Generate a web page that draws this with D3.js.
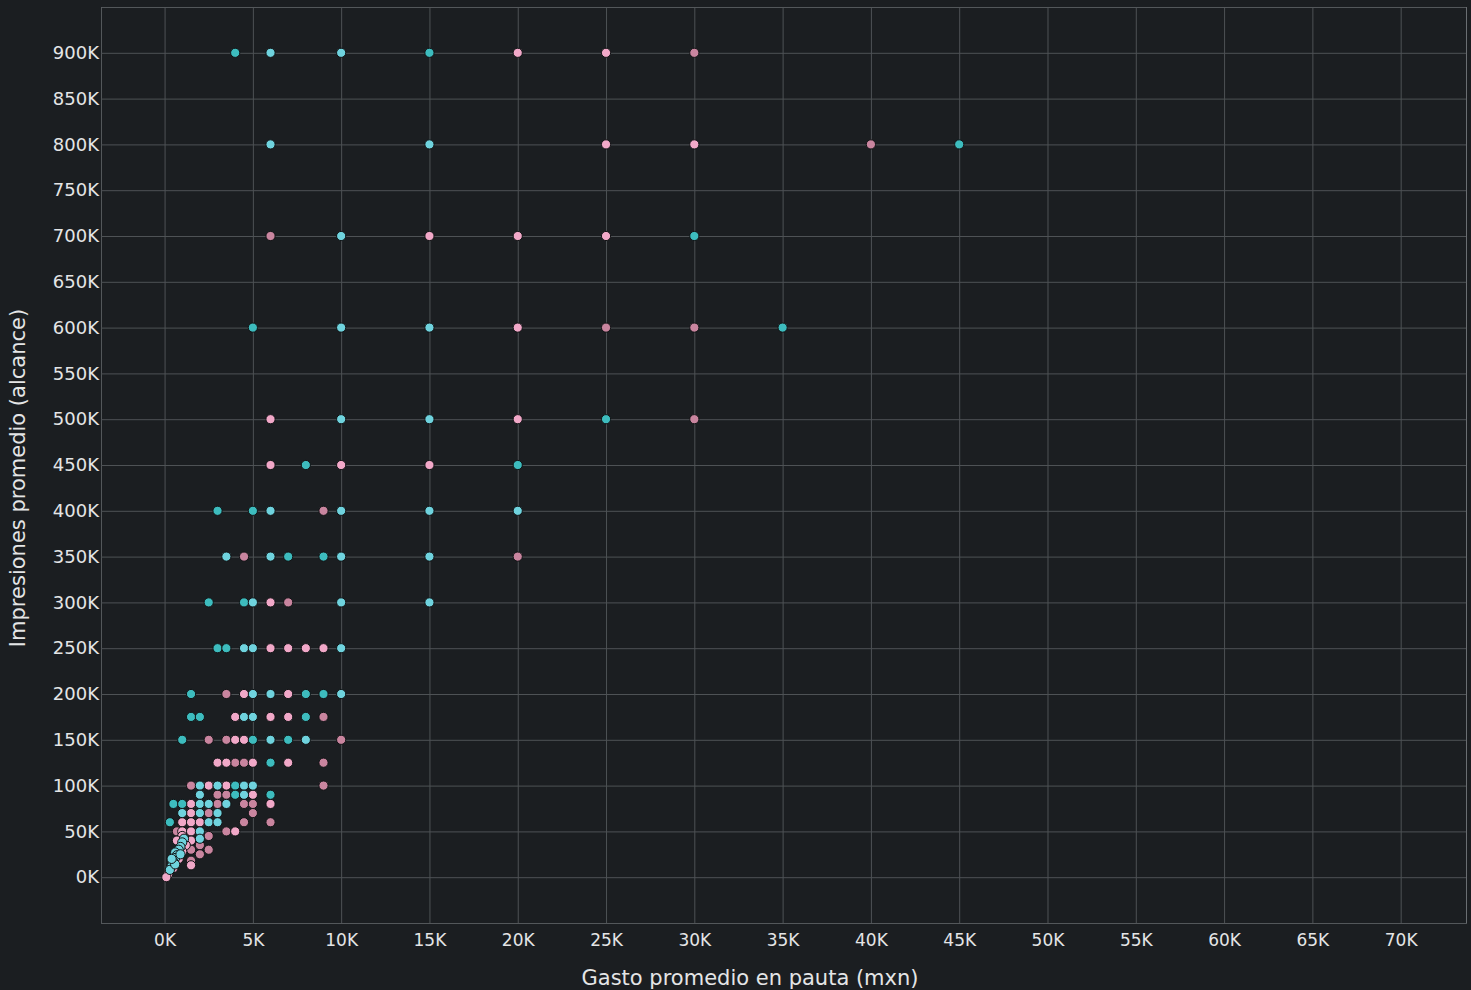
<!DOCTYPE html>
<html>
<head>
<meta charset="utf-8">
<script src="https://cdn.jsdelivr.net/npm/d3@7"></script>
<style>
  html, body { margin: 0; padding: 0; background: #1b1e21; }
  svg { display: block; }
</style>
</head>
<body>
<svg id="chart"></svg>
<script>
// Tick values (thousands)
const xTicks = [0, 5, 10, 15, 20, 25, 30, 35, 40, 45, 50, 55, 60, 65, 70];
const yTicks = [0, 50, 100, 150, 200, 250, 300, 350, 400, 450, 500, 550, 600, 650, 700, 750, 800, 850, 900];

// Series: [gasto (K mxn), impresiones (K)]
const pinkDark = [
  [30, 900], [40, 800], [6, 700], [25, 600], [30, 600], [30, 500],
  [9, 400], [4.5, 350], [20, 350], [7, 300], [3.5, 200], [9, 175],
  [2.5, 150], [3.5, 150], [10, 150], [4, 125], [4.5, 125], [9, 125],
  [1.5, 100], [9, 100], [3, 90], [3.5, 90], [3, 80], [4.5, 80], [5, 80],
  [2.5, 70], [5, 70], [4.5, 60], [6, 60], [0.7, 50], [3.5, 50],
  [2.5, 45], [2, 35], [2.5, 30], [1.5, 30], [2, 25], [1.5, 18]
];
const pinkLight = [
  [20, 900], [25, 900], [25, 800], [30, 800], [15, 700], [20, 700], [25, 700],
  [20, 600], [6, 500], [20, 500], [6, 450], [10, 450], [15, 450], [6, 300],
  [6, 250], [7, 250], [8, 250], [9, 250], [4.5, 200], [7, 200],
  [4, 175], [6, 175], [7, 175], [4, 150], [4.5, 150],
  [3, 125], [3.5, 125], [5, 125], [7, 125], [2.5, 100], [3.5, 100],
  [5, 90], [1.5, 80], [6, 80], [1.5, 70], [1, 60], [1.5, 60], [2, 60],
  [1, 50], [1.5, 50], [4, 50], [1.5, 40], [1, 45], [0.7, 40], [1.2, 35],
  [1, 28], [0.8, 20], [1.5, 13], [0.5, 10], [0.2, 3], [0.1, 0]
];
const tealDark = [
  [4, 900], [15, 900], [45, 800], [30, 700], [5, 600], [35, 600], [25, 500],
  [8, 450], [20, 450], [3, 400], [5, 400], [7, 350], [9, 350],
  [2.5, 300], [4.5, 300], [3, 250], [3.5, 250], [1.5, 200], [8, 200], [9, 200],
  [1.5, 175], [2, 175], [8, 175], [1, 150], [5, 150], [7, 150], [6, 125],
  [4, 100], [4, 90], [6, 90], [0.5, 80], [1, 80], [0.3, 60]
];
const tealLight = [
  [6, 900], [10, 900], [6, 800], [15, 800], [10, 700], [10, 600], [15, 600],
  [10, 500], [15, 500], [6, 400], [10, 400], [15, 400], [20, 400],
  [3.5, 350], [6, 350], [10, 350], [15, 350], [5, 300], [10, 300], [15, 300],
  [4.5, 250], [5, 250], [10, 250], [5, 200], [6, 200], [10, 200],
  [4.5, 175], [5, 175], [6, 150], [8, 150], [2, 100], [3, 100], [4.5, 100], [5, 100],
  [2, 90], [4.5, 90], [2, 80], [2.5, 80], [3.5, 80], [1, 70], [2, 70], [3, 70],
  [2.5, 60], [3, 60], [2, 50], [2, 42], [1.1, 42], [1, 38], [0.9, 33],
  [0.8, 30], [0.6, 27], [0.7, 24], [0.6, 21], [0.5, 17], [0.4, 12], [0.3, 8],
  [0.6, 14], [0.9, 25], [0.4, 20]
];

const series = [
  { name: "pinkDark", values: pinkDark },
  { name: "pinkLight", values: pinkLight },
  { name: "tealDark", values: tealDark },
  { name: "tealLight", values: tealLight }
];

const width = 1471;
const height = 990;
const margin = { top: 7, right: 5, bottom: 67, left: 101 };

const color = d3.scaleOrdinal()
  .domain(["pinkDark", "pinkLight", "tealDark", "tealLight"])
  .range(["#c9859f", "#f1a8c8", "#3dbcbe", "#6fd3de"]);

const svg = d3.select("#chart")
  .attr("width", width)
  .attr("height", height);

const x = d3.scaleLinear()
  .domain([-3.6, 73.7])
  .range([margin.left, width - margin.right]);

const y = d3.scaleLinear()
  .domain([-50, 950])
  .range([height - margin.bottom, margin.top]);

const fmt = d => d + "K";
const textColor = "#e4e5e6";
const gridColor = "#4e5255";
const font = "'DejaVu Sans', sans-serif";

// Vertical grid lines + x axis
const xAxis = svg.append("g")
  .attr("transform", `translate(0,${height - margin.bottom})`)
  .call(d3.axisBottom(x).tickValues(xTicks).tickFormat(fmt)
    .tickSize(-(height - margin.top - margin.bottom)).tickPadding(11));
xAxis.select(".domain").attr("stroke", "#6a6e72");
xAxis.selectAll(".tick line").attr("stroke", gridColor);
xAxis.selectAll(".tick text")
  .attr("fill", textColor)
  .style("font-family", font)
  .style("font-size", "17px");

// Horizontal grid lines + y axis
const yAxis = svg.append("g")
  .attr("transform", `translate(${margin.left},0)`)
  .call(d3.axisLeft(y).tickValues(yTicks).tickFormat(fmt)
    .tickSize(-(width - margin.left - margin.right)).tickPadding(2));
yAxis.select(".domain").attr("stroke", "#53575a");
yAxis.selectAll(".tick line").attr("stroke", gridColor);
yAxis.selectAll(".tick text")
  .attr("fill", textColor)
  .style("font-family", font)
  .style("font-size", "18px");

// Points
series.forEach(s => {
  svg.append("g")
    .selectAll("circle")
    .data(s.values)
    .enter()
    .append("circle")
    .attr("cx", d => x(d[0]))
    .attr("cy", d => y(d[1]))
    .attr("r", 4.6)
    .attr("fill", color(s.name))
    .attr("stroke", "#111315")
    .attr("stroke-width", 1);
});

// Axis titles
svg.append("text")
  .attr("x", 750)
  .attr("y", 985)
  .attr("text-anchor", "middle")
  .attr("fill", textColor)
  .style("font-family", font)
  .style("font-size", "21px")
  .text("Gasto promedio en pauta (mxn)");

svg.append("text")
  .attr("transform", `translate(25,478) rotate(-90)`)
  .attr("text-anchor", "middle")
  .attr("fill", textColor)
  .style("font-family", font)
  .style("font-size", "21px")
  .text("Impresiones promedio (alcance)");
</script>
</body>
</html>
